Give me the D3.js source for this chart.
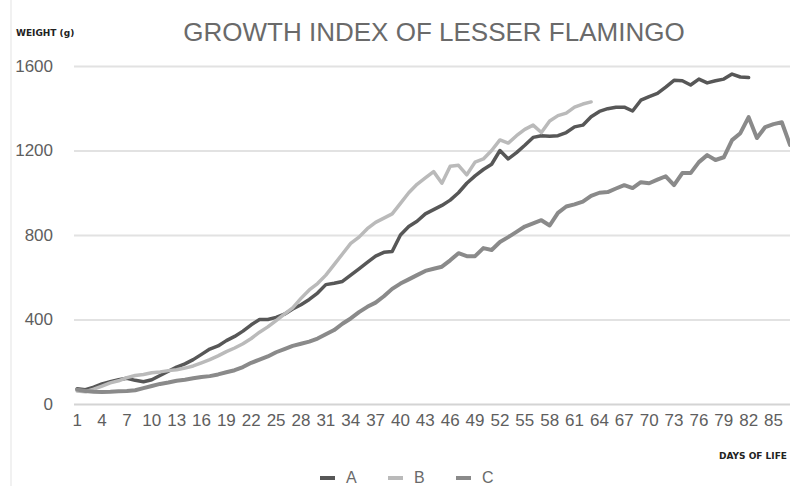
<!DOCTYPE html>
<html>
<head>
<meta charset="utf-8">
<script src="https://cdn.jsdelivr.net/npm/d3@7"></script>
<style>
    body { margin: 0; background: #fff; }
    svg { display: block; font-family: "Liberation Sans", Arial, sans-serif; }
</style>
</head>
<body>
<div class="chart"></div>
<script>
// weight in grams per day of life
const seriesA = [72, 68, 80, 95, 105, 115, 122, 112, 105, 115,
    135, 155, 175, 190, 210, 235, 260, 275, 300, 320,
    345, 375, 400, 400, 410, 425, 450, 470, 495, 525,
    565, 572, 580, 610, 640, 670, 700, 718, 722, 800,
    840, 865, 900, 920, 940, 965, 1000, 1045, 1080, 1110,
    1135, 1200, 1160, 1190, 1225, 1262, 1270, 1268, 1270, 1285,
    1312, 1320, 1360, 1385, 1398, 1405, 1405, 1387, 1438, 1455,
    1470, 1500, 1532, 1530, 1510, 1538, 1520, 1530, 1538, 1562,
    1548, 1545];
const seriesB = [62, 58, 70, 85, 100, 110, 125, 135, 140, 148,
    152, 158, 162, 170, 180, 195, 210, 228, 248, 265,
    285, 310, 340, 365, 395, 425, 455, 500, 540, 570,
    610, 660, 710, 760, 790, 830, 860, 880, 900, 950,
    1000, 1040, 1070, 1100, 1045, 1125, 1130, 1085, 1145, 1160,
    1200, 1250, 1235, 1270, 1300, 1320, 1285, 1340, 1365, 1377,
    1405, 1420, 1430];
const seriesC = [68, 62, 58, 57, 58, 60, 62, 65, 75, 85,
    95, 102, 110, 115, 122, 128, 132, 140, 150, 160,
    175, 195, 210, 225, 245, 260, 275, 285, 295, 310,
    330, 350, 380, 405, 435, 460, 480, 510, 545, 570,
    590, 610, 630, 640, 650, 680, 714, 700, 700, 738,
    729, 767, 790, 815, 840, 855, 870, 845, 905, 935,
    945, 958, 985, 1000, 1003, 1020, 1036, 1022, 1050, 1045,
    1062, 1078, 1036, 1093, 1093, 1145, 1178, 1155, 1168, 1249,
    1282, 1358, 1259, 1311, 1325, 1334, 1226];

const seriesNames = ["A", "B", "C"];
const seriesColors = ["#575757", "#bababa", "#8a8a8a"];
const yTicks = [0, 400, 800, 1200, 1600];
const xTicks = d3.range(1, 88, 3);
const days = d3.range(1, 88);

const width = 790, height = 486;

const svg = d3.select(".chart")
    .append("svg")
    .attr("width", width)
    .attr("height", height);

// faint frame line on the left
svg.append("line")
    .attr("x1", 11).attr("x2", 11)
    .attr("y1", 0).attr("y2", height)
    .attr("stroke", "#ececec")
    .attr("stroke-width", 1.5);

const x = d3.scaleBand()
    .domain(days)
    .range([73, 73 + days.length * 8.29])
    .paddingInner(0)
    .paddingOuter(0);

const y = d3.scaleLinear()
    .domain([0, 1600])
    .range([404, 66]);

const xc = d => x(d) + x.bandwidth() / 2;

// gridlines
svg.append("g")
    .attr("transform", "translate(74,0)")
    .call(d3.axisLeft(y).tickValues(yTicks).tickSize(-(width - 74)).tickFormat(""))
    .call(g => g.select(".domain").remove())
    .selectAll("line")
    .attr("stroke", d => d === 0 ? "#d4d4d4" : "#e2e2e2")
    .attr("stroke-width", 2);

// y tick labels
svg.append("g")
    .attr("transform", "translate(53,0)")
    .call(d3.axisLeft(y).tickValues(yTicks).tickSize(0).tickPadding(0).tickFormat(d3.format("d")))
    .call(g => g.select(".domain").remove())
    .selectAll("text")
    .attr("fill", "#5e5e5e")
    .style("font-size", "17px")
    .style("font-family", "'Liberation Sans', Arial, sans-serif");

// x axis
svg.append("g")
    .attr("transform", "translate(0,404)")
    .call(d3.axisBottom(x).tickValues(xTicks).tickSize(0).tickPadding(10))
    .call(g => g.select(".domain").remove())
    .selectAll("text")
    .attr("fill", "#5e5e5e")
    .style("font-size", "17px")
    .style("font-family", "'Liberation Sans', Arial, sans-serif");

// lines
const line = d3.line()
    .x((d, i) => xc(days[i]))
    .y(d => y(d));

[seriesA, seriesB, seriesC].forEach((s, i) => {
    svg.append("path")
        .datum(s)
        .attr("fill", "none")
        .attr("stroke", seriesColors[i])
        .attr("stroke-width", i === 2 ? 4 : 3.5)
        .attr("stroke-linejoin", "round")
        .attr("stroke-linecap", "round")
        .attr("d", line);
});

// title and axis names
svg.append("text")
    .attr("x", 434).attr("y", 41)
    .attr("text-anchor", "middle")
    .attr("fill", "#6a6a6a")
    .style("font-size", "26px")
    .text("GROWTH INDEX OF LESSER FLAMINGO");

svg.append("text")
    .attr("x", 16).attr("y", 36)
    .attr("fill", "#222")
    .style("font-size", "9px")
    .style("font-weight", "bold")
    .style("font-family", "'DejaVu Sans', sans-serif")
    .text("WEIGHT (g)");

svg.append("text")
    .attr("x", 787).attr("y", 459)
    .attr("text-anchor", "end")
    .attr("fill", "#222")
    .style("font-size", "9px")
    .style("font-weight", "bold")
    .style("font-family", "'DejaVu Sans', sans-serif")
    .text("DAYS OF LIFE");

// legend
const legendX = [320, 388, 456];
const legend = svg.append("g");
seriesNames.forEach((name, i) => {
    legend.append("line")
        .attr("x1", legendX[i]).attr("x2", legendX[i] + 15)
        .attr("y1", 478).attr("y2", 478)
        .attr("stroke", seriesColors[i])
        .attr("stroke-width", 4);
    legend.append("text")
        .attr("x", legendX[i] + 26).attr("y", 483)
        .attr("fill", "#6a6a6a")
        .style("font-size", "16px")
        .text(name);
});
</script>
</body>
</html>
